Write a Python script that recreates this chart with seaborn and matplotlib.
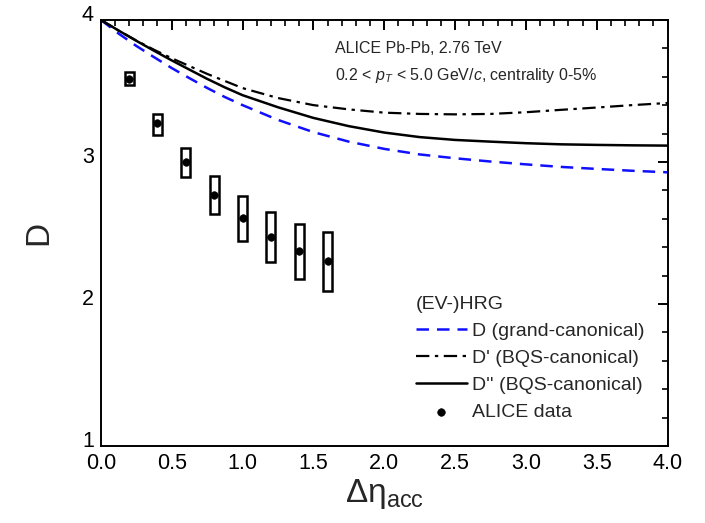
import numpy as np
import pandas as pd
import matplotlib
matplotlib.use("Agg")
import matplotlib.pyplot as plt
import matplotlib.transforms as mtransforms
import seaborn as sns
from matplotlib.ticker import MultipleLocator, FormatStrFormatter

sns.set_theme(style="white")
plt.rcParams['font.family'] = ['Liberation Sans', 'DejaVu Sans']
plt.rcParams['mathtext.fontset'] = 'custom'
plt.rcParams['mathtext.rm'] = 'Liberation Sans'
plt.rcParams['mathtext.it'] = 'Liberation Sans:italic'

# model curves
x_model = [0.0, 0.125, 0.25, 0.375, 0.5, 0.625, 0.75, 0.875, 1.0, 1.25, 1.5, 1.75,
           2.0, 2.25, 2.5, 2.75, 3.0, 3.25, 3.5, 3.75, 4.0]
D_gc = [4.0, 3.904, 3.817, 3.738, 3.661, 3.59, 3.521, 3.457, 3.40, 3.296, 3.21, 3.143,
        3.092, 3.053, 3.026, 3.003, 2.983, 2.965, 2.951, 2.938, 2.927]
D_prime = [4.0, 3.925, 3.855, 3.79, 3.73, 3.675, 3.62, 3.57, 3.52, 3.45, 3.40, 3.37,
           3.347, 3.338, 3.335, 3.338, 3.35, 3.367, 3.383, 3.40, 3.415]
D_dprime = [4.0, 3.925, 3.853, 3.783, 3.715, 3.65, 3.585, 3.525, 3.47, 3.385, 3.31, 3.252,
            3.207, 3.175, 3.155, 3.143, 3.132, 3.124, 3.12, 3.117, 3.115]

# ALICE data
x_data = [0.2, 0.4, 0.6, 0.8, 1.0, 1.2, 1.4, 1.6]
D_data = [3.585, 3.275, 3.0, 2.77, 2.605, 2.47, 2.37, 2.30]
sys_lo = [3.542, 3.19, 2.894, 2.634, 2.444, 2.296, 2.176, 2.092]
sys_hi = [3.634, 3.338, 3.099, 2.901, 2.76, 2.648, 2.563, 2.507]

fig = plt.figure(figsize=(7.05, 5.23), dpi=100)
ax = fig.add_axes([0.143, 0.147, 0.804, 0.815])

df = pd.DataFrame({"x": x_model, "gc": D_gc, "p": D_prime, "pp": D_dprime})

sns.lineplot(data=df, x="x", y="gc", ax=ax, color="#1010ff", lw=1.8,
             label="D (grand-canonical)")
ax.lines[-1].set_dashes([5, 3.2])
sns.lineplot(data=df, x="x", y="p", ax=ax, color="black", lw=1.6,
             label="D' (BQS-canonical)")
ax.lines[-1].set_dashes([6, 2.5, 1.5, 2.5])
sns.lineplot(data=df, x="x", y="pp", ax=ax, color="black", lw=1.8,
             label="D'' (BQS-canonical)")

# systematic boxes
heights = [h - l for h, l in zip(sys_hi, sys_lo)]
ax.bar(x_data, heights, bottom=sys_lo, width=0.065, fill=False,
       edgecolor="black", linewidth=1.8, zorder=3)
sns.scatterplot(x=x_data, y=D_data, ax=ax, color="black", s=30,
                edgecolor="black", zorder=4, label="ALICE data")

ax.set_xlim(0, 4.0)
ax.set_ylim(1, 4)
ax.xaxis.set_major_locator(MultipleLocator(0.5))
ax.xaxis.set_minor_locator(MultipleLocator(0.1))
ax.yaxis.set_major_locator(MultipleLocator(1))
ax.yaxis.set_minor_locator(MultipleLocator(0.2))
ax.xaxis.set_major_formatter(FormatStrFormatter('%.1f'))
ax.yaxis.set_major_formatter(FormatStrFormatter('%d'))
ax.tick_params(which="both", direction="in", top=True, right=True,
               colors="black", labelsize=15.5)
ax.tick_params(which="major", length=7, width=1.4, pad=5)
ax.tick_params(which="minor", length=4, width=1.2)
for sp in ax.spines.values():
    sp.set_color("black")
    sp.set_linewidth(1.4)

# y tick labels sit slightly above their ticks in the reference
offset = mtransforms.ScaledTranslation(0, 5 / 72, fig.dpi_scale_trans)
for lab in ax.get_yticklabels():
    lab.set_transform(lab.get_transform() + offset)

ax.set_xlabel("Δη$_{\\mathregular{acc}}$", fontsize=24, labelpad=2)
ax.set_ylabel("D", fontsize=24, labelpad=20)

ax.text(1.65, 3.80, "ALICE Pb-Pb, 2.76 TeV", fontsize=11.5, va="center")
ax.text(1.65, 3.61, r"0.2 < $p_T$ < 5.0 GeV/$c$, centrality 0-5%", fontsize=11.5, va="center")

leg = ax.legend(loc="upper left", bbox_to_anchor=(0.556, 0.352), frameon=False,
                title="(EV-)HRG", fontsize=14, title_fontsize=14,
                handlelength=2.6, handletextpad=0.28, labelspacing=0.48,
                alignment="left", borderaxespad=0, borderpad=0)

fig.savefig("out.png", dpi=100)
